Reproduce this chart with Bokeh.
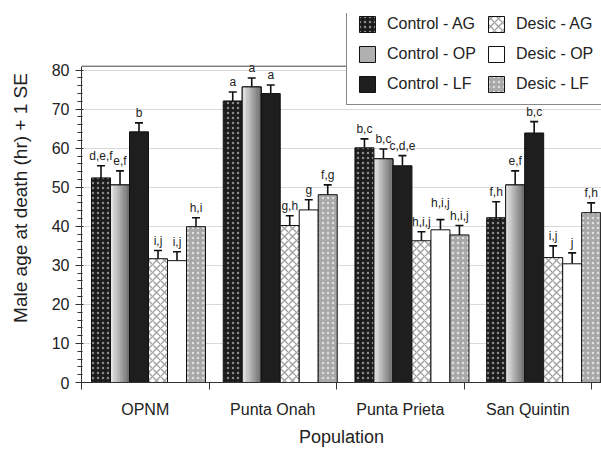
import numpy as np
from bokeh.plotting import figure
from bokeh.models import (Range1d, FixedTicker, Whisker, TeeHead, Span,
                          ColumnDataSource, Legend, LegendItem)
from bokeh.core.properties import value
from bokeh.embed import file_html
from bokeh.resources import INLINE

FONT = "Liberation Sans"

# ---------------- data ----------------
populations = ["OPNM", "Punta Onah", "Punta Prieta", "San Quintin"]
treatments = ["Control - AG", "Control - OP", "Control - LF",
              "Desic - AG", "Desic - OP", "Desic - LF"]

ctrl_ag = [52.4, 72.1, 60.1, 42.2]
ctrl_op = [50.6, 75.7, 57.3, 50.6]
ctrl_lf = [64.2, 74.0, 55.5, 63.9]
desic_ag = [31.7, 40.2, 36.3, 32.0]
desic_op = [31.2, 44.2, 39.1, 30.4]
desic_lf = [39.9, 48.1, 37.8, 43.5]

ctrl_ag_se = [3.1, 2.3, 2.3, 4.1]
ctrl_op_se = [3.6, 2.3, 2.5, 3.6]
ctrl_lf_se = [2.3, 2.2, 2.6, 2.9]
desic_ag_se = [2.1, 2.5, 2.3, 3.0]
desic_op_se = [2.3, 2.6, 2.6, 2.8]
desic_lf_se = [2.3, 2.5, 2.4, 2.5]

letters_ctrl_ag = ["d,e,f", "a", "b,c", "f,h"]
letters_ctrl_op = ["e,f", "a", "b,c", "e,f"]
letters_ctrl_lf = ["b", "a", "c,d,e", "b,c"]
letters_desic_ag = ["i,j", "g,h", "h,i,j", "i,j"]
letters_desic_op = ["i,j", "g", "h,i,j", "j"]
letters_desic_lf = ["h,i", "f,g", "h,i,j", "f,h"]

y_ticks = [0, 10, 20, 30, 40, 50, 60, 70, 80]
y_max = 81

means = [ctrl_ag, ctrl_op, ctrl_lf, desic_ag, desic_op, desic_lf]
ses = [ctrl_ag_se, ctrl_op_se, ctrl_lf_se, desic_ag_se, desic_op_se, desic_lf_se]
letters = [letters_ctrl_ag, letters_ctrl_op, letters_ctrl_lf,
           letters_desic_ag, letters_desic_op, letters_desic_lf]

# ---------------- layout constants (styling) ----------------
group_pitch = 1.033      # spacing of bar groups in axis units
group_first = 0.5255     # center of first bar group
bw = 0.149               # bar width
label_raise = {(2, 4): 7}  # extra pixel raise for crowded letter labels

# frame extends up to the legend's top; the plotted value axis stops at y_max
p = figure(width=601, height=449, output_backend="svg", toolbar_location=None,
           x_range=Range1d(0, 4.078), y_range=Range1d(0, 94.5),
           min_border_left=81, min_border_right=0, min_border_top=13,
           min_border_bottom=65, background_fill_color="white",
           border_fill_color="white")
p.outline_line_color = None

styles = [
    dict(fill_color="#1c1c1c", hatch_pattern="dot", hatch_color="#8a8a8a", hatch_scale=5, hatch_weight=1),
    dict(fill_color="#b0b0b0"),
    dict(fill_color="#1e1e1e"),
    dict(fill_color="white", hatch_pattern="diagonal_cross", hatch_color="#a0a0a0", hatch_scale=8, hatch_weight=1.3),
    dict(fill_color="white"),
    dict(fill_color="#a8a8a8", hatch_pattern="dot", hatch_color="#dedede", hatch_scale=5, hatch_weight=1),
]

renderers = []
for j in range(6):
    xs = [group_first + i * group_pitch + (j - 2.5) * bw for i in range(len(populations))]
    src = ColumnDataSource(dict(
        x=xs, top=means[j],
        err=[m + s for m, s in zip(means[j], ses[j])],
        lab=letters[j],
        yoff=[-3 - label_raise.get((i, j), 0) for i in range(len(populations))],
    ))
    r = p.vbar(x="x", top="top", width=bw, source=src, line_color="#111111",
               line_width=1, **styles[j])
    renderers.append(r)
    if j == 1:
        # horizontal gradient fill (light left -> dark right)
        n_sl = 14
        for k in range(n_sl):
            frac = (k + 0.5) / n_sl
            g = int(242 - (242 - 100) * frac)
            sx = [x - bw / 2 + (k + 0.5) * bw / n_sl for x in xs]
            p.vbar(x=sx, top=means[j], width=bw / n_sl * 1.05,
                   fill_color=f"#{g:02x}{g:02x}{g:02x}", line_color=None)
        p.vbar(x="x", top="top", width=bw, source=src, fill_color=None,
               line_color="#111111", line_width=1)
    wh = Whisker(source=src, base="x", upper="err", lower="top", dimension="height",
                 upper_head=TeeHead(size=8, line_width=1.6, line_color="#111111"),
                 lower_head=None, line_width=1.6, line_color="#111111")
    p.add_layout(wh)
    p.text(x="x", y="err", text="lab", source=src, y_offset="yoff",
           text_align="center", text_baseline="bottom",
           text_font=value(FONT), text_font_size="12px", text_color="#222222")

# top border of the plotting box
p.add_layout(Span(location=y_max, dimension="width", line_color="#444444", line_width=1))

# ---------------- axes ----------------
label_pos = [k + 0.5 for k in range(len(populations))]
bound_pos = [float(k) for k in range(len(populations) + 1)]
p.xaxis.ticker = FixedTicker(ticks=label_pos, minor_ticks=bound_pos)
p.xaxis.major_label_overrides = {pos: name for pos, name in zip(label_pos, populations)}
p.xaxis.major_tick_line_color = None
p.xaxis.major_tick_out = 0
p.xaxis.major_tick_in = 0
p.xaxis.minor_tick_out = 7
p.xaxis.minor_tick_in = 0
p.xaxis.minor_tick_line_color = "#333333"
p.xaxis.axis_line_color = "#333333"
p.xaxis.major_label_standoff = 11
p.xaxis.major_label_text_font = FONT
p.xaxis.major_label_text_font_size = "16px"
p.xaxis.major_label_text_color = "#222222"
p.xaxis.axis_label = "Population"
p.xaxis.axis_label_text_font = FONT
p.xaxis.axis_label_text_font_size = "18px"
p.xaxis.axis_label_text_font_style = "normal"
p.xaxis.axis_label_text_color = "#222222"
p.xaxis.axis_label_standoff = 6

p.yaxis.ticker = FixedTicker(ticks=y_ticks, minor_ticks=list(range(0, y_max, 2)))
p.yaxis.bounds = (0, y_max)
p.yaxis.axis_line_color = "#333333"
p.yaxis.major_tick_line_color = "#333333"
p.yaxis.minor_tick_line_color = "#333333"
p.yaxis.major_tick_out = 6
p.yaxis.major_tick_in = 2
p.yaxis.minor_tick_out = 4
p.yaxis.minor_tick_in = 1
p.yaxis.major_label_standoff = 6
p.yaxis.major_label_text_font = FONT
p.yaxis.major_label_text_font_size = "16px"
p.yaxis.major_label_text_color = "#222222"
p.yaxis.axis_label = "Male age at death (hr) + 1 SE"
p.yaxis.axis_label_text_font = FONT
p.yaxis.axis_label_text_font_size = "19px"
p.yaxis.axis_label_text_font_style = "normal"
p.yaxis.axis_label_text_color = "#222222"
p.yaxis.axis_label_standoff = 18

p.xgrid.grid_line_color = None
p.ygrid.grid_line_color = "#d9d9d9"
p.ygrid.grid_line_width = 1

# ---------------- legend ----------------
legend = Legend(
    items=[LegendItem(label=treatments[j], renderers=[renderers[j]]) for j in range(6)],
    location=(265, 277), ncols=2,
    glyph_width=20, glyph_height=20, label_standoff=10, spacing=10,
    padding=10, margin=0, border_line_color="#111111", border_line_width=1,
    background_fill_color="white", background_fill_alpha=1,
    label_text_font=FONT, label_text_font_size="16px", label_text_color="#222222",
)
p.add_layout(legend)

open("out.html", "w").write(file_html(p, INLINE))
